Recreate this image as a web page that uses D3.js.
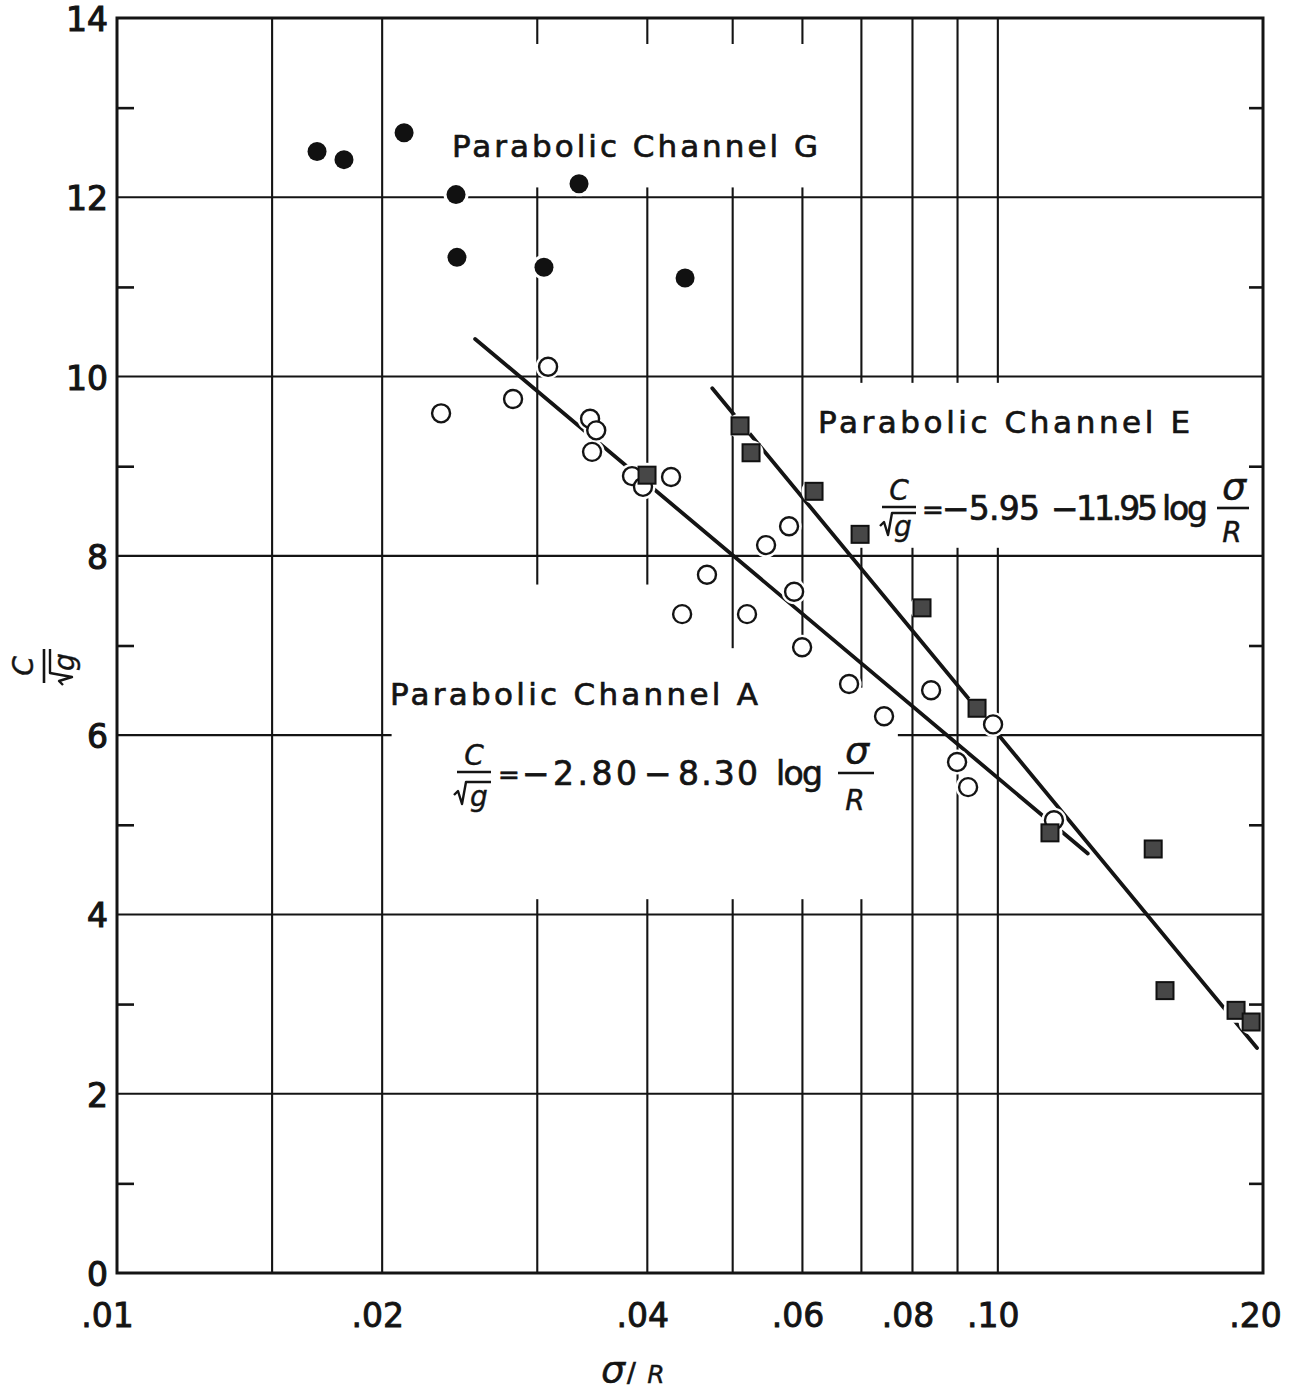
<!DOCTYPE html>
<html><head><meta charset="utf-8">
<script src="https://cdn.jsdelivr.net/npm/d3@7"></script>
<style>body{margin:0;background:#fff}svg{display:block}text{font-family:"DejaVu Sans",sans-serif;fill:#141414;stroke:#141414;stroke-width:0.7px}</style>
</head><body>
<svg id="chart" width="1299" height="1390"></svg>
<script>
// ---------- data ----------
const xTickValues = [0.01, 0.02, 0.04, 0.06, 0.08, 0.10, 0.20];
const xTickLabels = [".01", ".02", ".04", ".06", ".08", ".10", ".20"];
const xGridValues = [0.015, 0.02, 0.03, 0.04, 0.05, 0.06, 0.07, 0.08, 0.09, 0.10];
const yTickValues = [0, 2, 4, 6, 8, 10, 12, 14];
const yTickLabels = ["0", "2", "4", "6", "8", "10", "12", "14"];
const yGridValues = [2, 4, 6, 8, 10, 12];
const yMinorTicks = [1, 3, 5, 7, 9, 11, 13];

// Parabolic Channel G (filled circles)
const channelGX = [0.01687, 0.0181, 0.02118, 0.02426, 0.02432, 0.03053, 0.03346, 0.04415];
const channelGY = [12.51, 12.42, 12.72, 12.03, 11.33, 11.22, 12.15, 11.10];

// Parabolic Channel A (open circles)
const channelAX = [0.02333, 0.02816, 0.03086, 0.03444, 0.0350, 0.03462, 0.03843, 0.03955, 0.04256, 0.04381,
                   0.04675, 0.05191, 0.05456, 0.05794, 0.05871, 0.05995, 0.06778, 0.07427, 0.08399, 0.08989,
                   0.09252, 0.09876, 0.1158];
const channelAY = [9.59, 9.75, 10.11, 9.53, 9.40, 9.16, 8.89, 8.77, 8.88, 7.35,
                   7.79, 7.35, 8.12, 8.33, 7.60, 6.98, 6.57, 6.21, 6.50, 5.70,
                   5.42, 6.12, 5.05];

// Parabolic Channel E (filled squares)
const channelEX = [0.03997, 0.05097, 0.05246, 0.06185, 0.06976, 0.08202, 0.09471, 0.1146, 0.1501, 0.1548, 0.1864, 0.1939];
const channelEY = [8.90, 9.45, 9.15, 8.72, 8.24, 7.42, 6.30, 4.91, 4.73, 3.15, 2.93, 2.80];

// fitted lines (end points)
const fitAX = [0.0255, 0.1265];
const fitAY = [10.42, 4.68];
const fitEX = [0.0474, 0.1969];
const fitEY = [9.87, 2.51];

// ---------- drawing ----------
const INK = "#141414";
const svg = d3.select("#chart");
const X = d3.scaleLog().domain([0.01, 0.2]).range([117, 1263]);
const Y = d3.scaleLinear().domain([0, 14]).range([1273, 18]);
const zip = (a, b) => a.map((v, i) => [v, b[i]]);

// grid
svg.append("g").selectAll("line").data(xGridValues).join("line")
  .attr("x1", d => X(d)).attr("x2", d => X(d)).attr("y1", Y(0)).attr("y2", Y(14))
  .attr("stroke", INK).attr("stroke-width", 2.1);
svg.append("g").selectAll("line").data(yGridValues).join("line")
  .attr("x1", X(0.01)).attr("x2", X(0.2)).attr("y1", d => Y(d)).attr("y2", d => Y(d))
  .attr("stroke", INK).attr("stroke-width", 2.1);

// white areas where the draftsman left the grid out (behind the lettering)
const masks = [
  [0.0205, 0.069, 12.11, 13.71],
  [0.062, 0.197, 8.09, 9.93],
  [0.0205, 0.077, 4.17, 6.53],
  [0.0285, 0.0445, 6.5, 7.68],
  [0.048, 0.064, 6.5, 6.97]
];
svg.append("g").selectAll("rect").data(masks).join("rect")
  .attr("x", d => X(d[0])).attr("width", d => X(d[1]) - X(d[0]))
  .attr("y", d => Y(d[3])).attr("height", d => Y(d[2]) - Y(d[3]))
  .attr("fill", "#fff");

// fitted lines
const line = d3.line().x(d => X(d[0])).y(d => Y(d[1]));
[zip(fitAX, fitAY), zip(fitEX, fitEY)].forEach(pts => {
  svg.append("path").attr("d", line(pts)).attr("fill", "none")
    .attr("stroke", INK).attr("stroke-width", 3.8).attr("stroke-linecap", "round");
});

// halos around the symbols (lines are broken around them)
const allPts = zip(channelGX, channelGY).concat(zip(channelAX, channelAY), zip(channelEX, channelEY));
svg.append("g").selectAll("circle").data(allPts).join("circle")
  .attr("cx", d => X(d[0])).attr("cy", d => Y(d[1])).attr("r", 12.5).attr("fill", "#fff");

// frame
svg.append("rect").attr("x", X(0.01)).attr("y", Y(14))
  .attr("width", X(0.2) - X(0.01)).attr("height", Y(0) - Y(14))
  .attr("fill", "none").attr("stroke", INK).attr("stroke-width", 3);

// minor ticks left / right
const lt = svg.append("g").attr("transform", `translate(${X(0.01)},0)`)
  .call(d3.axisRight(Y).tickValues(yMinorTicks).tickSize(17).tickFormat(""));
lt.select(".domain").remove();
lt.selectAll("line").attr("stroke", INK).attr("stroke-width", 2.6);
const rt = svg.append("g").attr("transform", `translate(${X(0.2)},0)`)
  .call(d3.axisLeft(Y).tickValues(yMinorTicks).tickSize(14).tickFormat(""));
rt.select(".domain").remove();
rt.selectAll("line").attr("stroke", INK).attr("stroke-width", 2.6);

// symbols
svg.append("g").selectAll("circle").data(zip(channelAX, channelAY)).join("circle")
  .attr("cx", d => X(d[0])).attr("cy", d => Y(d[1])).attr("r", 9)
  .attr("fill", "#fff").attr("stroke", INK).attr("stroke-width", 2.4);
svg.append("g").selectAll("rect").data(zip(channelEX, channelEY)).join("rect")
  .attr("x", d => X(d[0]) - 8.5).attr("y", d => Y(d[1]) - 8.5).attr("width", 17).attr("height", 17)
  .attr("fill", "#474747").attr("stroke", "#111").attr("stroke-width", 2);
svg.append("g").selectAll("circle").data(zip(channelGX, channelGY)).join("circle")
  .attr("cx", d => X(d[0])).attr("cy", d => Y(d[1])).attr("r", 9.5).attr("fill", "#111");

// y tick labels
const ya = svg.append("g").attr("transform", `translate(${X(0.01)},0)`)
  .call(d3.axisLeft(Y).tickValues(yTickValues).tickSize(0).tickPadding(9)
    .tickFormat((d, i) => yTickLabels[i]));
ya.select(".domain").remove();
ya.selectAll("text").attr("font-size", 33).attr("font-family", "DejaVu Sans")
  .attr("y", 2).attr("fill", INK).style("stroke-width", "1.1px");

// x tick labels
const xa = svg.append("g").attr("transform", `translate(0,${Y(0)})`)
  .call(d3.axisBottom(X).tickValues(xTickValues).tickSize(0).tickPadding(0)
    .tickFormat((d, i) => xTickLabels[i]));
xa.select(".domain").remove();
xa.selectAll("text").attr("font-size", 33).attr("font-family", "DejaVu Sans")
  .attr("dy", 0).attr("y", 54).attr("x", (d, i) => i === 0 ? -10 : (i === xTickLabels.length - 1 ? -8 : -5))
  .attr("fill", INK).style("stroke-width", "0.9px");

// ---------- lettering ----------
function txt(x, y, s, size, opts = {}) {
  const t = svg.append("text").attr("x", x).attr("y", y).attr("font-size", size).text(s);
  if (opts.len) t.attr("textLength", opts.len).attr("lengthAdjust", "spacing");
  if (opts.italic) t.attr("font-style", "italic").style("stroke-width", "0.4px");
  t.attr("text-anchor", opts.anchor || "start");
  return t;
}
function hline(x1, x2, y, w = 2.6) {
  svg.append("line").attr("x1", x1).attr("x2", x2).attr("y1", y).attr("y2", y)
    .attr("stroke", INK).attr("stroke-width", w);
}
function radical(x, yTop, x2) {
  svg.append("path").attr("d", `M${x},${yTop + 13} L${x + 4},${yTop + 9} L${x + 8},${yTop + 22} L${x + 12},${yTop} L${x2},${yTop}`)
    .attr("fill", "none").attr("stroke", INK).attr("stroke-width", 2.4).attr("stroke-linejoin", "round");
}

txt(452, 157, "Parabolic  Channel G", 31, { len: 366 });
txt(818, 433, "Parabolic  Channel E", 31, { len: 372 });
txt(390, 705, "Parabolic  Channel A", 31, { len: 368 });

// equation E
txt(899, 500, "C", 28, { italic: true, anchor: "middle" });
hline(882, 916, 507);
radical(880, 513, 916);
txt(903, 536, "g", 28, { italic: true, anchor: "middle" });
txt(922, 519, "=", 26, { len: 15 });
txt(942, 520, "\u22125.95", 33, { len: 98 });
txt(1051, 520, "\u2212", 33, { len: 20 });
txt(1076, 520, "11.95", 33, { len: 82 });
txt(1162, 520, "log", 33, { len: 46 });
txt(1234, 499, "\u03c3", 38, { italic: true, anchor: "middle" });
hline(1217, 1249, 508);
txt(1232, 542, "R", 28, { italic: true, anchor: "middle" });

// equation A
txt(474, 765, "C", 28, { italic: true, anchor: "middle" });
hline(457, 491, 772);
radical(454, 782, 491);
txt(479, 806, "g", 28, { italic: true, anchor: "middle" });
txt(498, 784, "=", 26, { len: 15 });
txt(522, 785, "\u2212", 33, { len: 26 });
txt(553, 785, "2.80", 33, { len: 84 });
txt(644, 785, "\u2212", 33, { len: 23 });
txt(678, 785, "8.30", 33, { len: 80 });
txt(776, 785, "log", 33, { len: 47 });
txt(857, 763, "\u03c3", 38, { italic: true, anchor: "middle" });
hline(838, 874, 773);
txt(855, 810, "R", 28, { italic: true, anchor: "middle" });

// axis titles
const yl = svg.append("g").attr("transform", "translate(44,666) rotate(-90)");
yl.append("text").attr("x", 0).attr("y", -11).attr("font-size", 28).attr("font-style", "italic")
  .attr("text-anchor", "middle").style("stroke-width", "0.4px").text("C");
yl.append("line").attr("x1", -17).attr("x2", 17).attr("y1", 0).attr("y2", 0)
  .attr("stroke", INK).attr("stroke-width", 2.6);
yl.append("path").attr("d", "M-19,19 L-15,15 L-11,28 L-7,6 L17,6")
  .attr("fill", "none").attr("stroke", INK).attr("stroke-width", 2.4).attr("stroke-linejoin", "round");
yl.append("text").attr("x", 4).attr("y", 30).attr("font-size", 28).attr("font-style", "italic")
  .attr("text-anchor", "middle").style("stroke-width", "0.4px").text("g");

txt(613, 1382, "\u03c3", 38, { italic: true, anchor: "middle" });
txt(627, 1382, "/", 26);
txt(656, 1383, "R", 25, { italic: true, anchor: "middle" });
</script>
</body></html>
